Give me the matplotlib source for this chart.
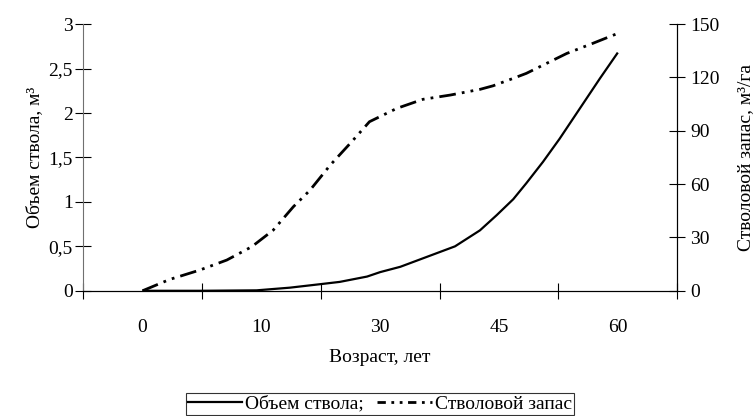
#! /usr/bin/env python3
# Объем ствола и стволовой запас по возрасту

import numpy as np
import matplotlib
matplotlib.use('Agg')
import matplotlib.pyplot as plt
from matplotlib.lines import Line2D

plt.rcParams['font.family'] = ['Liberation Serif', 'DejaVu Serif']

ages = ['0', '10', '30', '45', '60']

# положение по оси категорий (0 = "0", 4 = "60") и значения
vol_pos = [0.0, 0.48, 0.96, 1.24, 1.5, 1.66, 1.89, 2.0, 2.17, 2.39, 2.63,
           2.84, 2.98, 3.12, 3.23, 3.37, 3.51, 3.71, 3.85, 4.0]
vol_val = [0.0, 0.0, 0.005, 0.035, 0.075, 0.10, 0.16, 0.21, 0.27, 0.38, 0.50,
           0.68, 0.85, 1.03, 1.21, 1.45, 1.71, 2.11, 2.39, 2.68]

stock_pos = [0.0, 0.23, 0.48, 0.71, 0.92, 1.10, 1.27, 1.41, 1.58, 1.76, 1.91,
             2.14, 2.36, 2.59, 2.84, 2.95, 3.12, 3.23, 3.57, 3.79, 4.0]
stock_val = [0.0, 6.4, 11.6, 17.3, 24.8, 34.1, 47.3, 56.6, 70.7, 83.8, 95.1,
             102.6, 107.7, 110.1, 113.3, 115.3, 119.5, 122.3, 133.5, 139.2, 144.8]

left_ticks = [0, 0.5, 1, 1.5, 2, 2.5, 3]
right_ticks = [0, 30, 60, 90, 120, 150]

fs = 14

fig = plt.figure(figsize=(7.55, 4.16), dpi=100)
ax = fig.add_axes([0.110, 0.301, 0.787, 0.641])
ax2 = ax.twinx()

dash = (0, (6, 2.2, 1, 2.2, 1, 2.2))
l1, = ax.plot(vol_pos, vol_val, color='black', lw=1.6, solid_capstyle='butt')
l2, = ax2.plot(stock_pos, stock_val, color='black', lw=2.0, linestyle=dash,
               dash_capstyle='butt')

ax.set_xlim(-0.5, 4.5)
ax.set_ylim(0, 3)
ax2.set_ylim(0, 150)

ax.set_xticks(np.arange(-0.5, 4.6, 1))
ax.set_xticklabels([])
ax.set_xticks(range(len(ages)), minor=True)
ax.set_xticklabels(ages, minor=True)
ax.tick_params(axis='x', which='major', direction='inout', length=11, width=0.8)
ax.tick_params(axis='x', which='minor', length=0, pad=20, labelsize=fs)

ax.set_yticks(left_ticks)
ax.set_yticklabels([str(t).replace('.', ',') for t in left_ticks])
ax.tick_params(axis='y', direction='inout', length=11, width=0.8, labelsize=fs, pad=2)
ax2.set_yticks(right_ticks)
ax2.tick_params(axis='y', direction='inout', length=11, width=0.8, labelsize=fs, pad=4)

for a in (ax, ax2):
    a.spines['top'].set_visible(False)
ax.spines['left'].set_color('#707070')
ax2.spines['left'].set_visible(False)

ax.set_ylabel('Объем ствола, м³', fontsize=fs, labelpad=4)
ax2.set_ylabel('Стволовой запас, м³/га', fontsize=fs, labelpad=12)
ax.set_xlabel('Возраст, лет', fontsize=fs, labelpad=10)

h1 = Line2D([], [], color='black', lw=1.6)
h2 = Line2D([], [], color='black', lw=2.0, linestyle=(0, (3, 2, 1, 2, 1, 2)))
leg = fig.legend([h1, h2], ['Объем ствола;', 'Стволовой запас'],
                 loc='center', bbox_to_anchor=(0.503, 0.029), ncol=2,
                 fontsize=fs, frameon=True, fancybox=False, edgecolor='black',
                 handlelength=2.8, handletextpad=0.15, columnspacing=0.7,
                 borderpad=0.1, borderaxespad=0)
leg.get_frame().set_linewidth(0.8)

fig.savefig('out.png', dpi=100)
